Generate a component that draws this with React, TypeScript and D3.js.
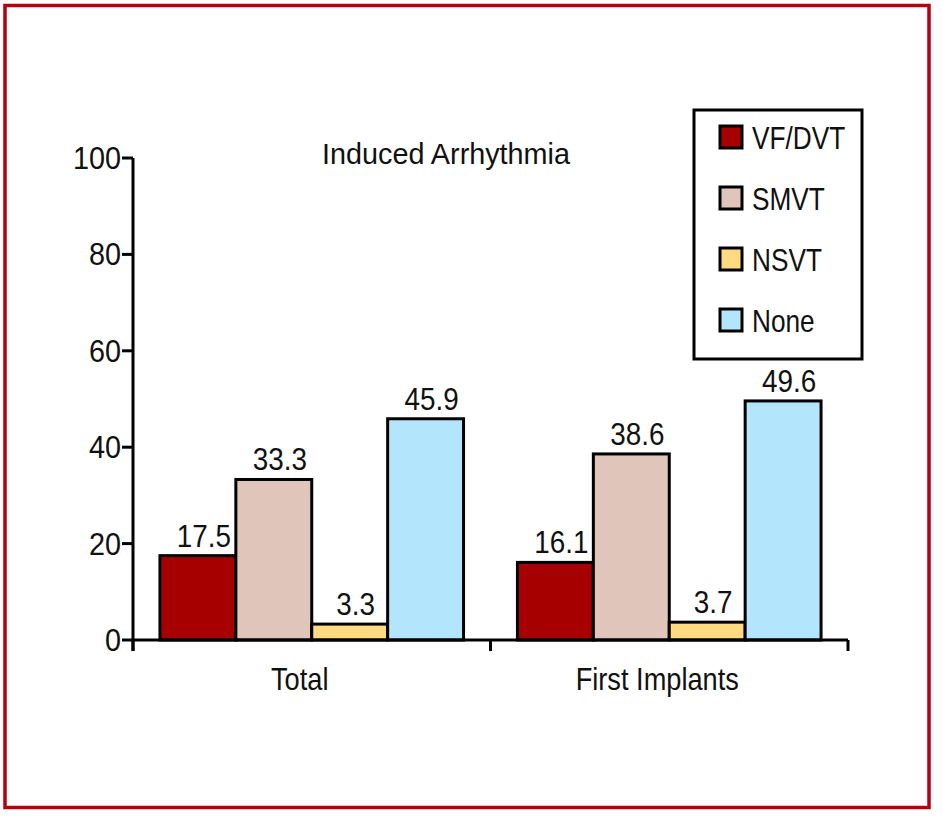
import * as d3 from 'd3';
import { useEffect, useRef } from 'react';

const groups = ['Total', 'First Implants'];
const series = ['VF/DVT', 'SMVT', 'NSVT', 'None'];
const colors = ['#a60000', '#e0c6ba', '#ffda80', '#b3e5fd'];
const totalValues = [17.5, 33.3, 3.3, 45.9];
const firstImplantValues = [16.1, 38.6, 3.7, 49.6];
const yTicks = [0, 20, 40, 60, 80, 100];

const FONT = '"Liberation Sans", Arial, sans-serif';

type Sel = d3.Selection<SVGGElement, unknown, null, undefined>;

// condensed text: Liberation Sans squeezed horizontally
function label(parent: Sel, x: number, y: number, txt: string, size: number, sx: number, anchor = 'start') {
  parent.append('text')
    .attr('transform', `translate(${x},${y}) scale(${sx},1)`)
    .attr('text-anchor', anchor)
    .attr('font-family', FONT)
    .attr('font-size', size)
    .attr('fill', '#111')
    .text(txt);
}

export default function App() {
  const svgRef = useRef<SVGSVGElement>(null);

  useEffect(() => {
    if (!svgRef.current) return;
    const svg = d3.select(svgRef.current);
    svg.selectAll('*').remove();
    const root = svg.append('g') as unknown as Sel;

    const left = 133;
    const right = 848;
    const top = 158;
    const bottom = 640;

    // outer frame
    root.append('rect')
      .attr('x', 5).attr('y', 5.5)
      .attr('width', 924).attr('height', 802)
      .attr('fill', 'none')
      .attr('stroke', '#b5000f')
      .attr('stroke-width', 3.5);

    const y = d3.scaleLinear().domain([0, 100]).range([bottom, top]);
    const x0 = d3.scaleBand<string>().domain(groups).range([left, right]);
    const x1 = d3.scaleBand<string>().domain(series).range([0, x0.bandwidth()]).paddingOuter(0.355);

    const data = [totalValues, firstImplantValues];

    data.forEach((vals, gi) => {
      const gx = x0(groups[gi]) ?? 0;
      const grp = root.append('g').attr('transform', `translate(${gx},0)`) as unknown as Sel;
      grp.selectAll('rect')
        .data(vals)
        .enter()
        .append('rect')
        .attr('x', (_, i) => x1(series[i]) ?? 0)
        .attr('y', (d) => y(d))
        .attr('width', x1.bandwidth())
        .attr('height', (d) => bottom - y(d))
        .attr('fill', (_, i) => colors[i])
        .attr('stroke', '#000')
        .attr('stroke-width', 3);

      vals.forEach((v, i) => {
        const cx = (x1(series[i]) ?? 0) + x1.bandwidth() / 2 + 6;
        label(grp, cx, y(v) - 9, v.toFixed(1), 32, 0.87, 'middle');
      });
    });

    // y axis
    root.append('line')
      .attr('x1', left).attr('x2', left)
      .attr('y1', top).attr('y2', bottom + 11)
      .attr('stroke', '#000').attr('stroke-width', 3);
    yTicks.forEach((t) => {
      root.append('line')
        .attr('x1', left - 11).attr('x2', left)
        .attr('y1', y(t)).attr('y2', y(t))
        .attr('stroke', '#000').attr('stroke-width', 3);
      label(root, left - 12, y(t) + 11, String(t), 32, 0.9, 'end');
    });

    // x axis
    root.append('line')
      .attr('x1', left).attr('x2', right)
      .attr('y1', bottom).attr('y2', bottom)
      .attr('stroke', '#000').attr('stroke-width', 3);
    const xTickPos = [left, ...groups.map((gname) => (x0(gname) ?? 0) + x0.bandwidth())];
    xTickPos.forEach((px) => {
      root.append('line')
        .attr('x1', px).attr('x2', px)
        .attr('y1', bottom).attr('y2', bottom + 11)
        .attr('stroke', '#000').attr('stroke-width', 3);
    });
    groups.forEach((gname) => {
      label(root, (x0(gname) ?? 0) + x0.bandwidth() / 2 - 12, bottom + 50, gname, 32, 0.85, 'middle');
    });

    // title
    label(root, 446, 164, 'Induced Arrhythmia', 30, 0.96, 'middle');

    // legend
    root.append('rect')
      .attr('x', 694).attr('y', 110)
      .attr('width', 168).attr('height', 249)
      .attr('fill', '#fff')
      .attr('stroke', '#000').attr('stroke-width', 3);
    const ly = d3.scalePoint<string>().domain(series).range([137, 320]);
    series.forEach((s, i) => {
      const cy = ly(s) ?? 0;
      root.append('rect')
        .attr('x', 720).attr('y', cy - 11)
        .attr('width', 22).attr('height', 22)
        .attr('fill', colors[i])
        .attr('stroke', '#000').attr('stroke-width', 3);
      label(root, 752, cy + 12, s, 32, 0.82);
    });
  }, []);

  return (
    <svg
      ref={svgRef}
      width={943}
      height={818}
      style={{ position: 'absolute', left: 0, top: 0, display: 'block' }}
    />
  );
}
